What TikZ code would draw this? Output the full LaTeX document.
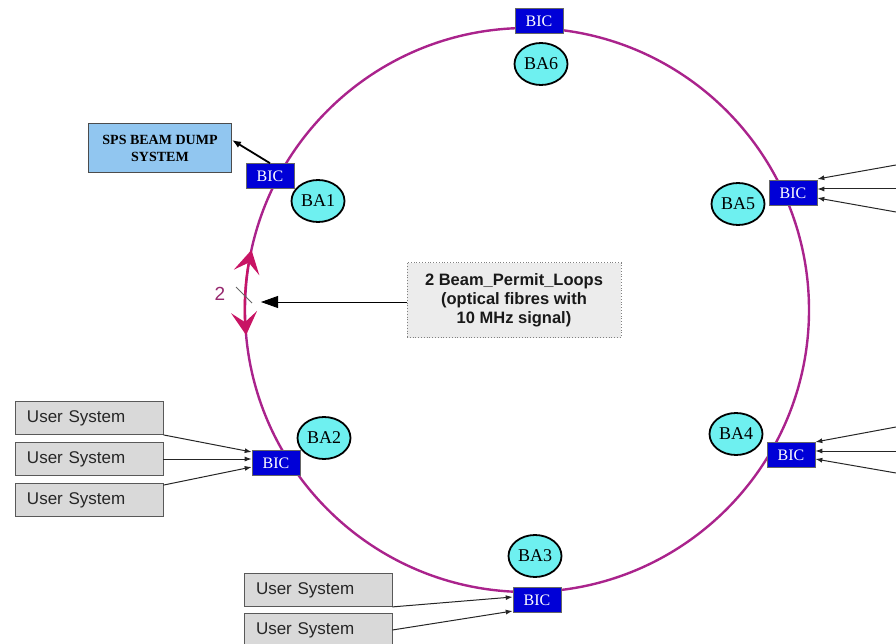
\documentclass[tikz,border=0pt]{standalone}
\usepackage{fontspec}
\setmainfont{Liberation Sans}
\newfontfamily\serifrm{Liberation Serif}
\usetikzlibrary{arrows.meta,shapes.geometric}
\definecolor{ringcol}{RGB}{170,35,140}
\definecolor{loopcol}{RGB}{200,20,100}
\definecolor{biccol}{RGB}{0,0,215}
\definecolor{bacol}{RGB}{110,240,240}
\definecolor{spscol}{RGB}{145,198,240}
\definecolor{usercol}{RGB}{217,217,217}
\definecolor{notecol}{RGB}{236,236,236}
\definecolor{twocol}{RGB}{150,40,110}
\begin{document}
\begin{tikzpicture}[x=1pt,y=-1pt,
  bic/.style={draw=black!60, fill=biccol, text=white, line width=0.6pt,
    font=\serifrm\fontsize{16}{16}\selectfont, minimum width=48pt, minimum height=25pt, inner sep=0pt},
  ba/.style={ellipse, draw=black, line width=1.8pt, fill=bacol,
    font=\serifrm\fontsize{18}{18}\selectfont, minimum width=53pt, minimum height=42pt, inner sep=0pt},
  usersys/.style={draw=black!65, fill=usercol, line width=0.8pt, text=black!85,
    font=\fontsize{17}{17}\selectfont, text width=124pt, inner xsep=12pt, inner ysep=0pt,
    minimum height=33pt, align=left},
  spsbox/.style={draw=black!70, fill=spscol, line width=1pt, align=center,
    font=\serifrm\bfseries\fontsize{14}{17}\selectfont, minimum width=143pt, minimum height=49pt, inner sep=0pt},
  notebox/.style={draw=gray, dotted, fill=notecol, line width=0.8pt, align=center, text=black!90,
    font=\bfseries\fontsize{16.5}{19}\selectfont, minimum width=214pt, minimum height=75pt, inner sep=0pt},
  feed/.style={draw=black!85, line width=1pt, -{Latex[length=7pt,width=5pt]}},
  ring/.style={draw=ringcol, line width=2.4pt}
]
\useasboundingbox (0,0) rectangle (896,644);
% ring
\coordinate (c0) at (527,310);
\draw[ring] (c0) circle[radius=282];
% loop arrows
\draw[loopcol, line width=2pt, {Stealth[length=23pt,width=26pt,inset=10pt]}-{Stealth[length=23pt,width=26pt,inset=10pt]}]
  ([shift={(174.9:282)}]c0) arc[start angle=174.9, end angle=192.3, radius=282];
\draw[black!60, line width=0.8pt] (236,287) -- (252,303);
\node[text=twocol, font=\fontsize{19}{19}\selectfont, inner sep=0pt] (two) at (220,294) {2};

% BIC and BA nodes
\node[bic] (bic6) at (539,21) {BIC};
\node[ba] (ba6) at (541,64) {BA6};
\node[bic] (bic1) at (270,176) {BIC};
\node[ba] (ba1) at (318,201) {BA1};
\node[bic] (bic5) at (793,193) {BIC};
\node[ba] (ba5) at (738,204) {BA5};
\node[bic] (bic4) at (791,455) {BIC};
\node[ba] (ba4) at (736,434) {BA4};
\node[bic] (bic2) at (276,463) {BIC};
\node[ba] (ba2) at (324,438) {BA2};
\node[bic] (bic3) at (537,600) {BIC};
\node[ba] (ba3) at (535,556) {BA3};

% SPS beam dump
\node[spsbox] (sps) at (160,148) {SPS BEAM DUMP\\SYSTEM};
\draw[black, line width=1.8pt, -{Latex[length=9pt,width=7pt]}] (bic1.north) -- ([yshift=8pt]sps.east);

% note
\node[notebox] (note) at (514,300) {2 Beam\_Permit\_Loops\\(optical fibres with\\10 MHz signal)};
\coordinate (notetip) at (261,302);
\draw[black, line width=0.8pt, -{Triangle[length=17pt,width=12pt]}] (note.west |- notetip) -- (notetip);

% user systems left
\node[usersys] (u1) at (89,418) {User System};
\node[usersys] (u2) at (89,459) {User System};
\node[usersys] (u3) at (89,500) {User System};
\draw[feed] (u1.south east) -- ([yshift=11pt]bic2.west);
\draw[feed] (u2.east) -- (u2.east -| bic2.west);
\draw[feed] ([yshift=-2pt]u3.north east) -- ([yshift=-4pt]bic2.west);

% user systems bottom
\node[usersys] (u4) at (318,590) {User System};
\node[usersys] (u5) at (318,630) {User System};
\draw[feed] (u4.south east) -- ([yshift=3pt]bic3.west);
\draw[feed] (u5.east) -- ([yshift=-11pt]bic3.west);

% right feeds
\coordinate (r1) at (896,165);
\coordinate (r2) at (896,189);
\coordinate (r3) at (896,212);
\coordinate (r4) at (896,427);
\coordinate (r5) at (896,451);
\coordinate (r6) at (896,473);
\draw[feed] (r1) -- ([yshift=14pt]bic5.east);
\draw[feed] (r2) -- ([yshift=4pt]bic5.east);
\draw[feed] (r3) -- ([yshift=-5pt]bic5.east);
\draw[feed] (r4) -- ([yshift=13pt]bic4.east);
\draw[feed] (r5) -- ([yshift=4pt]bic4.east);
\draw[feed] (r6) -- ([yshift=-4pt]bic4.east);
\end{tikzpicture}
\end{document}
